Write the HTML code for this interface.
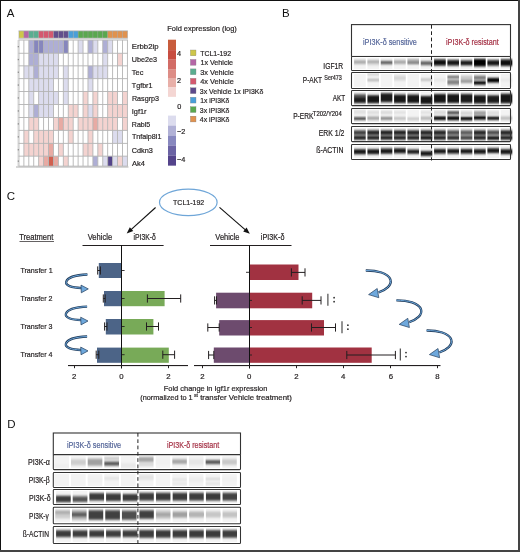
<!DOCTYPE html>
<html><head><meta charset="utf-8"><title>Figure</title>
<style>
html,body{margin:0;padding:0;background:#fff;}
body{width:520px;height:552px;position:relative;overflow:hidden;font-family:"Liberation Sans", sans-serif;}
svg text{font-family:"Liberation Sans", sans-serif;}
</style></head><body>
<svg width="520" height="552" viewBox="0 0 520 552" style="position:absolute;left:0;top:0;will-change:transform">
<defs>
<filter id="bl" x="-5%" y="-40%" width="110%" height="180%"><feGaussianBlur stdDeviation="0.3 1.0"/></filter>
<filter id="bl2" x="-5%" y="-20%" width="110%" height="140%"><feGaussianBlur stdDeviation="0.3 0.5"/></filter>
</defs>
<rect x="0" y="0" width="520" height="552" fill="#fff"/>
<rect x="17.2" y="40.1" width="1.2" height="126.10" fill="#e6e6e6"/>
<rect x="19.00" y="40.10" width="4.93" height="13.20" fill="#ffffff"/>
<rect x="23.93" y="40.10" width="4.93" height="13.20" fill="#ffffff"/>
<rect x="28.86" y="40.10" width="4.93" height="13.20" fill="#aeaed5"/>
<rect x="33.79" y="40.10" width="4.93" height="13.20" fill="#8686bd"/>
<rect x="38.72" y="40.10" width="4.93" height="13.20" fill="#8686bd"/>
<rect x="43.65" y="40.10" width="4.93" height="13.20" fill="#aeaed5"/>
<rect x="48.58" y="40.10" width="4.93" height="13.20" fill="#aeaed5"/>
<rect x="53.51" y="40.10" width="4.93" height="13.20" fill="#aeaed5"/>
<rect x="58.44" y="40.10" width="4.93" height="13.20" fill="#aeaed5"/>
<rect x="63.37" y="40.10" width="4.93" height="13.20" fill="#8686bd"/>
<rect x="68.30" y="40.10" width="4.93" height="13.20" fill="#ffffff"/>
<rect x="73.23" y="40.10" width="4.93" height="13.20" fill="#ffffff"/>
<rect x="78.16" y="40.10" width="4.93" height="13.20" fill="#dcdcee"/>
<rect x="83.09" y="40.10" width="4.93" height="13.20" fill="#ffffff"/>
<rect x="88.02" y="40.10" width="4.93" height="13.20" fill="#aeaed5"/>
<rect x="92.95" y="40.10" width="4.93" height="13.20" fill="#dcdcee"/>
<rect x="97.88" y="40.10" width="4.93" height="13.20" fill="#ffffff"/>
<rect x="102.81" y="40.10" width="4.93" height="13.20" fill="#aeaed5"/>
<rect x="107.74" y="40.10" width="4.93" height="13.20" fill="#dcdcee"/>
<rect x="112.67" y="40.10" width="4.93" height="13.20" fill="#ffffff"/>
<rect x="117.60" y="40.10" width="4.93" height="13.20" fill="#ffffff"/>
<rect x="122.53" y="40.10" width="4.93" height="13.20" fill="#ffffff"/>
<rect x="17.8" y="46.00" width="1.2" height="1.3" fill="#666"/>
<rect x="19.00" y="53.30" width="4.93" height="12.60" fill="#ffffff"/>
<rect x="23.93" y="53.30" width="4.93" height="12.60" fill="#ffffff"/>
<rect x="28.86" y="53.30" width="4.93" height="12.60" fill="#aeaed5"/>
<rect x="33.79" y="53.30" width="4.93" height="12.60" fill="#aeaed5"/>
<rect x="38.72" y="53.30" width="4.93" height="12.60" fill="#dcdcee"/>
<rect x="43.65" y="53.30" width="4.93" height="12.60" fill="#dcdcee"/>
<rect x="48.58" y="53.30" width="4.93" height="12.60" fill="#dcdcee"/>
<rect x="53.51" y="53.30" width="4.93" height="12.60" fill="#dcdcee"/>
<rect x="58.44" y="53.30" width="4.93" height="12.60" fill="#ffffff"/>
<rect x="63.37" y="53.30" width="4.93" height="12.60" fill="#ffffff"/>
<rect x="68.30" y="53.30" width="4.93" height="12.60" fill="#ffffff"/>
<rect x="73.23" y="53.30" width="4.93" height="12.60" fill="#ffffff"/>
<rect x="78.16" y="53.30" width="4.93" height="12.60" fill="#ffffff"/>
<rect x="83.09" y="53.30" width="4.93" height="12.60" fill="#ffffff"/>
<rect x="88.02" y="53.30" width="4.93" height="12.60" fill="#ffffff"/>
<rect x="92.95" y="53.30" width="4.93" height="12.60" fill="#ffffff"/>
<rect x="97.88" y="53.30" width="4.93" height="12.60" fill="#ffffff"/>
<rect x="102.81" y="53.30" width="4.93" height="12.60" fill="#dcdcee"/>
<rect x="107.74" y="53.30" width="4.93" height="12.60" fill="#ffffff"/>
<rect x="112.67" y="53.30" width="4.93" height="12.60" fill="#ffffff"/>
<rect x="117.60" y="53.30" width="4.93" height="12.60" fill="#f4d3d0"/>
<rect x="122.53" y="53.30" width="4.93" height="12.60" fill="#ffffff"/>
<rect x="17.8" y="58.90" width="1.2" height="1.3" fill="#666"/>
<rect x="19.00" y="65.90" width="4.93" height="12.80" fill="#ffffff"/>
<rect x="23.93" y="65.90" width="4.93" height="12.80" fill="#dcdcee"/>
<rect x="28.86" y="65.90" width="4.93" height="12.80" fill="#dcdcee"/>
<rect x="33.79" y="65.90" width="4.93" height="12.80" fill="#aeaed5"/>
<rect x="38.72" y="65.90" width="4.93" height="12.80" fill="#dcdcee"/>
<rect x="43.65" y="65.90" width="4.93" height="12.80" fill="#dcdcee"/>
<rect x="48.58" y="65.90" width="4.93" height="12.80" fill="#dcdcee"/>
<rect x="53.51" y="65.90" width="4.93" height="12.80" fill="#dcdcee"/>
<rect x="58.44" y="65.90" width="4.93" height="12.80" fill="#ffffff"/>
<rect x="63.37" y="65.90" width="4.93" height="12.80" fill="#dcdcee"/>
<rect x="68.30" y="65.90" width="4.93" height="12.80" fill="#ffffff"/>
<rect x="73.23" y="65.90" width="4.93" height="12.80" fill="#ffffff"/>
<rect x="78.16" y="65.90" width="4.93" height="12.80" fill="#ffffff"/>
<rect x="83.09" y="65.90" width="4.93" height="12.80" fill="#ffffff"/>
<rect x="88.02" y="65.90" width="4.93" height="12.80" fill="#aeaed5"/>
<rect x="92.95" y="65.90" width="4.93" height="12.80" fill="#dcdcee"/>
<rect x="97.88" y="65.90" width="4.93" height="12.80" fill="#dcdcee"/>
<rect x="102.81" y="65.90" width="4.93" height="12.80" fill="#dcdcee"/>
<rect x="107.74" y="65.90" width="4.93" height="12.80" fill="#ffffff"/>
<rect x="112.67" y="65.90" width="4.93" height="12.80" fill="#ffffff"/>
<rect x="117.60" y="65.90" width="4.93" height="12.80" fill="#ffffff"/>
<rect x="122.53" y="65.90" width="4.93" height="12.80" fill="#ffffff"/>
<rect x="17.8" y="71.60" width="1.2" height="1.3" fill="#666"/>
<rect x="19.00" y="78.70" width="4.93" height="12.80" fill="#ffffff"/>
<rect x="23.93" y="78.70" width="4.93" height="12.80" fill="#ffffff"/>
<rect x="28.86" y="78.70" width="4.93" height="12.80" fill="#dcdcee"/>
<rect x="33.79" y="78.70" width="4.93" height="12.80" fill="#dcdcee"/>
<rect x="38.72" y="78.70" width="4.93" height="12.80" fill="#dcdcee"/>
<rect x="43.65" y="78.70" width="4.93" height="12.80" fill="#dcdcee"/>
<rect x="48.58" y="78.70" width="4.93" height="12.80" fill="#dcdcee"/>
<rect x="53.51" y="78.70" width="4.93" height="12.80" fill="#ffffff"/>
<rect x="58.44" y="78.70" width="4.93" height="12.80" fill="#ffffff"/>
<rect x="63.37" y="78.70" width="4.93" height="12.80" fill="#dcdcee"/>
<rect x="68.30" y="78.70" width="4.93" height="12.80" fill="#ffffff"/>
<rect x="73.23" y="78.70" width="4.93" height="12.80" fill="#ffffff"/>
<rect x="78.16" y="78.70" width="4.93" height="12.80" fill="#ffffff"/>
<rect x="83.09" y="78.70" width="4.93" height="12.80" fill="#ffffff"/>
<rect x="88.02" y="78.70" width="4.93" height="12.80" fill="#dcdcee"/>
<rect x="92.95" y="78.70" width="4.93" height="12.80" fill="#ffffff"/>
<rect x="97.88" y="78.70" width="4.93" height="12.80" fill="#ffffff"/>
<rect x="102.81" y="78.70" width="4.93" height="12.80" fill="#ffffff"/>
<rect x="107.74" y="78.70" width="4.93" height="12.80" fill="#ffffff"/>
<rect x="112.67" y="78.70" width="4.93" height="12.80" fill="#ffffff"/>
<rect x="117.60" y="78.70" width="4.93" height="12.80" fill="#ffffff"/>
<rect x="122.53" y="78.70" width="4.93" height="12.80" fill="#ffffff"/>
<rect x="17.8" y="84.40" width="1.2" height="1.3" fill="#666"/>
<rect x="19.00" y="91.50" width="4.93" height="13.00" fill="#ffffff"/>
<rect x="23.93" y="91.50" width="4.93" height="13.00" fill="#ffffff"/>
<rect x="28.86" y="91.50" width="4.93" height="13.00" fill="#dcdcee"/>
<rect x="33.79" y="91.50" width="4.93" height="13.00" fill="#ffffff"/>
<rect x="38.72" y="91.50" width="4.93" height="13.00" fill="#dcdcee"/>
<rect x="43.65" y="91.50" width="4.93" height="13.00" fill="#dcdcee"/>
<rect x="48.58" y="91.50" width="4.93" height="13.00" fill="#dcdcee"/>
<rect x="53.51" y="91.50" width="4.93" height="13.00" fill="#dcdcee"/>
<rect x="58.44" y="91.50" width="4.93" height="13.00" fill="#ffffff"/>
<rect x="63.37" y="91.50" width="4.93" height="13.00" fill="#dcdcee"/>
<rect x="68.30" y="91.50" width="4.93" height="13.00" fill="#ffffff"/>
<rect x="73.23" y="91.50" width="4.93" height="13.00" fill="#ffffff"/>
<rect x="78.16" y="91.50" width="4.93" height="13.00" fill="#ffffff"/>
<rect x="83.09" y="91.50" width="4.93" height="13.00" fill="#f4d3d0"/>
<rect x="88.02" y="91.50" width="4.93" height="13.00" fill="#ffffff"/>
<rect x="92.95" y="91.50" width="4.93" height="13.00" fill="#f4d3d0"/>
<rect x="97.88" y="91.50" width="4.93" height="13.00" fill="#ffffff"/>
<rect x="102.81" y="91.50" width="4.93" height="13.00" fill="#ffffff"/>
<rect x="107.74" y="91.50" width="4.93" height="13.00" fill="#f4d3d0"/>
<rect x="112.67" y="91.50" width="4.93" height="13.00" fill="#f4d3d0"/>
<rect x="117.60" y="91.50" width="4.93" height="13.00" fill="#ffffff"/>
<rect x="122.53" y="91.50" width="4.93" height="13.00" fill="#f4d3d0"/>
<rect x="17.8" y="97.30" width="1.2" height="1.3" fill="#666"/>
<rect x="19.00" y="104.50" width="4.93" height="13.00" fill="#ffffff"/>
<rect x="23.93" y="104.50" width="4.93" height="13.00" fill="#ffffff"/>
<rect x="28.86" y="104.50" width="4.93" height="13.00" fill="#dcdcee"/>
<rect x="33.79" y="104.50" width="4.93" height="13.00" fill="#aeaed5"/>
<rect x="38.72" y="104.50" width="4.93" height="13.00" fill="#dcdcee"/>
<rect x="43.65" y="104.50" width="4.93" height="13.00" fill="#dcdcee"/>
<rect x="48.58" y="104.50" width="4.93" height="13.00" fill="#dcdcee"/>
<rect x="53.51" y="104.50" width="4.93" height="13.00" fill="#ffffff"/>
<rect x="58.44" y="104.50" width="4.93" height="13.00" fill="#ffffff"/>
<rect x="63.37" y="104.50" width="4.93" height="13.00" fill="#ffffff"/>
<rect x="68.30" y="104.50" width="4.93" height="13.00" fill="#f4d3d0"/>
<rect x="73.23" y="104.50" width="4.93" height="13.00" fill="#f4d3d0"/>
<rect x="78.16" y="104.50" width="4.93" height="13.00" fill="#ffffff"/>
<rect x="83.09" y="104.50" width="4.93" height="13.00" fill="#f4d3d0"/>
<rect x="88.02" y="104.50" width="4.93" height="13.00" fill="#dcdcee"/>
<rect x="92.95" y="104.50" width="4.93" height="13.00" fill="#f4d3d0"/>
<rect x="97.88" y="104.50" width="4.93" height="13.00" fill="#ffffff"/>
<rect x="102.81" y="104.50" width="4.93" height="13.00" fill="#ffffff"/>
<rect x="107.74" y="104.50" width="4.93" height="13.00" fill="#f4d3d0"/>
<rect x="112.67" y="104.50" width="4.93" height="13.00" fill="#f4d3d0"/>
<rect x="117.60" y="104.50" width="4.93" height="13.00" fill="#f4d3d0"/>
<rect x="122.53" y="104.50" width="4.93" height="13.00" fill="#f4d3d0"/>
<rect x="17.8" y="110.30" width="1.2" height="1.3" fill="#666"/>
<rect x="19.00" y="117.50" width="4.93" height="12.90" fill="#ffffff"/>
<rect x="23.93" y="117.50" width="4.93" height="12.90" fill="#ffffff"/>
<rect x="28.86" y="117.50" width="4.93" height="12.90" fill="#f4d3d0"/>
<rect x="33.79" y="117.50" width="4.93" height="12.90" fill="#f4d3d0"/>
<rect x="38.72" y="117.50" width="4.93" height="12.90" fill="#ffffff"/>
<rect x="43.65" y="117.50" width="4.93" height="12.90" fill="#ffffff"/>
<rect x="48.58" y="117.50" width="4.93" height="12.90" fill="#ffffff"/>
<rect x="53.51" y="117.50" width="4.93" height="12.90" fill="#f4d3d0"/>
<rect x="58.44" y="117.50" width="4.93" height="12.90" fill="#e8aaa3"/>
<rect x="63.37" y="117.50" width="4.93" height="12.90" fill="#f4d3d0"/>
<rect x="68.30" y="117.50" width="4.93" height="12.90" fill="#f4d3d0"/>
<rect x="73.23" y="117.50" width="4.93" height="12.90" fill="#ffffff"/>
<rect x="78.16" y="117.50" width="4.93" height="12.90" fill="#f4d3d0"/>
<rect x="83.09" y="117.50" width="4.93" height="12.90" fill="#f4d3d0"/>
<rect x="88.02" y="117.50" width="4.93" height="12.90" fill="#f4d3d0"/>
<rect x="92.95" y="117.50" width="4.93" height="12.90" fill="#e8aaa3"/>
<rect x="97.88" y="117.50" width="4.93" height="12.90" fill="#f4d3d0"/>
<rect x="102.81" y="117.50" width="4.93" height="12.90" fill="#f4d3d0"/>
<rect x="107.74" y="117.50" width="4.93" height="12.90" fill="#f4d3d0"/>
<rect x="112.67" y="117.50" width="4.93" height="12.90" fill="#f4d3d0"/>
<rect x="117.60" y="117.50" width="4.93" height="12.90" fill="#ffffff"/>
<rect x="122.53" y="117.50" width="4.93" height="12.90" fill="#f4d3d0"/>
<rect x="17.8" y="123.25" width="1.2" height="1.3" fill="#666"/>
<rect x="19.00" y="130.40" width="4.93" height="13.00" fill="#ffffff"/>
<rect x="23.93" y="130.40" width="4.93" height="13.00" fill="#f4d3d0"/>
<rect x="28.86" y="130.40" width="4.93" height="13.00" fill="#ffffff"/>
<rect x="33.79" y="130.40" width="4.93" height="13.00" fill="#f4d3d0"/>
<rect x="38.72" y="130.40" width="4.93" height="13.00" fill="#f4d3d0"/>
<rect x="43.65" y="130.40" width="4.93" height="13.00" fill="#f4d3d0"/>
<rect x="48.58" y="130.40" width="4.93" height="13.00" fill="#f4d3d0"/>
<rect x="53.51" y="130.40" width="4.93" height="13.00" fill="#ffffff"/>
<rect x="58.44" y="130.40" width="4.93" height="13.00" fill="#ffffff"/>
<rect x="63.37" y="130.40" width="4.93" height="13.00" fill="#ffffff"/>
<rect x="68.30" y="130.40" width="4.93" height="13.00" fill="#f4d3d0"/>
<rect x="73.23" y="130.40" width="4.93" height="13.00" fill="#ffffff"/>
<rect x="78.16" y="130.40" width="4.93" height="13.00" fill="#ffffff"/>
<rect x="83.09" y="130.40" width="4.93" height="13.00" fill="#ffffff"/>
<rect x="88.02" y="130.40" width="4.93" height="13.00" fill="#f4d3d0"/>
<rect x="92.95" y="130.40" width="4.93" height="13.00" fill="#ffffff"/>
<rect x="97.88" y="130.40" width="4.93" height="13.00" fill="#ffffff"/>
<rect x="102.81" y="130.40" width="4.93" height="13.00" fill="#ffffff"/>
<rect x="107.74" y="130.40" width="4.93" height="13.00" fill="#ffffff"/>
<rect x="112.67" y="130.40" width="4.93" height="13.00" fill="#dcdcee"/>
<rect x="117.60" y="130.40" width="4.93" height="13.00" fill="#dcdcee"/>
<rect x="122.53" y="130.40" width="4.93" height="13.00" fill="#ffffff"/>
<rect x="17.8" y="136.20" width="1.2" height="1.3" fill="#666"/>
<rect x="19.00" y="143.40" width="4.93" height="12.80" fill="#ffffff"/>
<rect x="23.93" y="143.40" width="4.93" height="12.80" fill="#f4d3d0"/>
<rect x="28.86" y="143.40" width="4.93" height="12.80" fill="#f4d3d0"/>
<rect x="33.79" y="143.40" width="4.93" height="12.80" fill="#f4d3d0"/>
<rect x="38.72" y="143.40" width="4.93" height="12.80" fill="#f4d3d0"/>
<rect x="43.65" y="143.40" width="4.93" height="12.80" fill="#f4d3d0"/>
<rect x="48.58" y="143.40" width="4.93" height="12.80" fill="#e8aaa3"/>
<rect x="53.51" y="143.40" width="4.93" height="12.80" fill="#ffffff"/>
<rect x="58.44" y="143.40" width="4.93" height="12.80" fill="#f4d3d0"/>
<rect x="63.37" y="143.40" width="4.93" height="12.80" fill="#ffffff"/>
<rect x="68.30" y="143.40" width="4.93" height="12.80" fill="#ffffff"/>
<rect x="73.23" y="143.40" width="4.93" height="12.80" fill="#ffffff"/>
<rect x="78.16" y="143.40" width="4.93" height="12.80" fill="#ffffff"/>
<rect x="83.09" y="143.40" width="4.93" height="12.80" fill="#f4d3d0"/>
<rect x="88.02" y="143.40" width="4.93" height="12.80" fill="#f4d3d0"/>
<rect x="92.95" y="143.40" width="4.93" height="12.80" fill="#ffffff"/>
<rect x="97.88" y="143.40" width="4.93" height="12.80" fill="#f4d3d0"/>
<rect x="102.81" y="143.40" width="4.93" height="12.80" fill="#ffffff"/>
<rect x="107.74" y="143.40" width="4.93" height="12.80" fill="#ffffff"/>
<rect x="112.67" y="143.40" width="4.93" height="12.80" fill="#ffffff"/>
<rect x="117.60" y="143.40" width="4.93" height="12.80" fill="#ffffff"/>
<rect x="122.53" y="143.40" width="4.93" height="12.80" fill="#ffffff"/>
<rect x="17.8" y="149.10" width="1.2" height="1.3" fill="#666"/>
<rect x="19.00" y="156.20" width="4.93" height="10.00" fill="#ffffff"/>
<rect x="23.93" y="156.20" width="4.93" height="10.00" fill="#ffffff"/>
<rect x="28.86" y="156.20" width="4.93" height="10.00" fill="#ffffff"/>
<rect x="33.79" y="156.20" width="4.93" height="10.00" fill="#ffffff"/>
<rect x="38.72" y="156.20" width="4.93" height="10.00" fill="#f4d3d0"/>
<rect x="43.65" y="156.20" width="4.93" height="10.00" fill="#e8aaa3"/>
<rect x="48.58" y="156.20" width="4.93" height="10.00" fill="#d0604f"/>
<rect x="53.51" y="156.20" width="4.93" height="10.00" fill="#e8aaa3"/>
<rect x="58.44" y="156.20" width="4.93" height="10.00" fill="#ffffff"/>
<rect x="63.37" y="156.20" width="4.93" height="10.00" fill="#f4d3d0"/>
<rect x="68.30" y="156.20" width="4.93" height="10.00" fill="#ffffff"/>
<rect x="73.23" y="156.20" width="4.93" height="10.00" fill="#ffffff"/>
<rect x="78.16" y="156.20" width="4.93" height="10.00" fill="#ffffff"/>
<rect x="83.09" y="156.20" width="4.93" height="10.00" fill="#ffffff"/>
<rect x="88.02" y="156.20" width="4.93" height="10.00" fill="#ffffff"/>
<rect x="92.95" y="156.20" width="4.93" height="10.00" fill="#aeaed5"/>
<rect x="97.88" y="156.20" width="4.93" height="10.00" fill="#ffffff"/>
<rect x="102.81" y="156.20" width="4.93" height="10.00" fill="#dcdcee"/>
<rect x="107.74" y="156.20" width="4.93" height="10.00" fill="#54448a"/>
<rect x="112.67" y="156.20" width="4.93" height="10.00" fill="#dcdcee"/>
<rect x="117.60" y="156.20" width="4.93" height="10.00" fill="#f4d3d0"/>
<rect x="122.53" y="156.20" width="4.93" height="10.00" fill="#dcdcee"/>
<rect x="17.8" y="160.50" width="1.2" height="1.3" fill="#666"/>
<rect x="18.50" y="40.1" width="0.9" height="126.10" fill="#b4b4b4"/>
<rect x="23.43" y="40.1" width="0.9" height="126.10" fill="#b4b4b4"/>
<rect x="28.36" y="40.1" width="0.9" height="126.10" fill="#b4b4b4"/>
<rect x="33.29" y="40.1" width="0.9" height="126.10" fill="#b4b4b4"/>
<rect x="38.22" y="40.1" width="0.9" height="126.10" fill="#b4b4b4"/>
<rect x="43.15" y="40.1" width="0.9" height="126.10" fill="#b4b4b4"/>
<rect x="48.08" y="40.1" width="0.9" height="126.10" fill="#b4b4b4"/>
<rect x="53.01" y="40.1" width="0.9" height="126.10" fill="#b4b4b4"/>
<rect x="57.94" y="40.1" width="0.9" height="126.10" fill="#b4b4b4"/>
<rect x="62.87" y="40.1" width="0.9" height="126.10" fill="#b4b4b4"/>
<rect x="67.80" y="40.1" width="0.9" height="126.10" fill="#b4b4b4"/>
<rect x="72.73" y="40.1" width="0.9" height="126.10" fill="#b4b4b4"/>
<rect x="77.66" y="40.1" width="0.9" height="126.10" fill="#b4b4b4"/>
<rect x="82.59" y="40.1" width="0.9" height="126.10" fill="#b4b4b4"/>
<rect x="87.52" y="40.1" width="0.9" height="126.10" fill="#b4b4b4"/>
<rect x="92.45" y="40.1" width="0.9" height="126.10" fill="#b4b4b4"/>
<rect x="97.38" y="40.1" width="0.9" height="126.10" fill="#b4b4b4"/>
<rect x="102.31" y="40.1" width="0.9" height="126.10" fill="#b4b4b4"/>
<rect x="107.24" y="40.1" width="0.9" height="126.10" fill="#b4b4b4"/>
<rect x="112.17" y="40.1" width="0.9" height="126.10" fill="#b4b4b4"/>
<rect x="117.10" y="40.1" width="0.9" height="126.10" fill="#b4b4b4"/>
<rect x="122.03" y="40.1" width="0.9" height="126.10" fill="#b4b4b4"/>
<rect x="126.96" y="40.1" width="0.9" height="126.10" fill="#b4b4b4"/>
<rect x="18.5" y="39.60" width="109.36" height="0.9" fill="#b4b4b4"/>
<rect x="18.5" y="52.80" width="109.36" height="0.9" fill="#b4b4b4"/>
<rect x="18.5" y="65.40" width="109.36" height="0.9" fill="#b4b4b4"/>
<rect x="18.5" y="78.20" width="109.36" height="0.9" fill="#b4b4b4"/>
<rect x="18.5" y="91.00" width="109.36" height="0.9" fill="#b4b4b4"/>
<rect x="18.5" y="104.00" width="109.36" height="0.9" fill="#b4b4b4"/>
<rect x="18.5" y="117.00" width="109.36" height="0.9" fill="#b4b4b4"/>
<rect x="18.5" y="129.90" width="109.36" height="0.9" fill="#b4b4b4"/>
<rect x="18.5" y="142.90" width="109.36" height="0.9" fill="#b4b4b4"/>
<rect x="18.5" y="155.70" width="109.36" height="0.9" fill="#b4b4b4"/>
<rect x="18.5" y="165.70" width="109.36" height="0.9" fill="#b4b4b4"/>
<rect x="16" y="166.40" width="112.46" height="1.2" fill="#bbb"/>
<rect x="19.00" y="31" width="4.93" height="7" fill="#cdc64a"/>
<rect x="23.93" y="31" width="4.93" height="7" fill="#b466a6"/>
<rect x="28.86" y="31" width="4.93" height="7" fill="#5aae90"/>
<rect x="33.79" y="31" width="4.93" height="7" fill="#5aae90"/>
<rect x="38.72" y="31" width="4.93" height="7" fill="#d4596f"/>
<rect x="43.65" y="31" width="4.93" height="7" fill="#d4596f"/>
<rect x="48.58" y="31" width="4.93" height="7" fill="#d4596f"/>
<rect x="53.51" y="31" width="4.93" height="7" fill="#624f8c"/>
<rect x="58.44" y="31" width="4.93" height="7" fill="#624f8c"/>
<rect x="63.37" y="31" width="4.93" height="7" fill="#624f8c"/>
<rect x="68.30" y="31" width="4.93" height="7" fill="#4a9fd9"/>
<rect x="73.23" y="31" width="4.93" height="7" fill="#4a9fd9"/>
<rect x="78.16" y="31" width="4.93" height="7" fill="#5aa84f"/>
<rect x="83.09" y="31" width="4.93" height="7" fill="#5aa84f"/>
<rect x="88.02" y="31" width="4.93" height="7" fill="#5aa84f"/>
<rect x="92.95" y="31" width="4.93" height="7" fill="#5aa84f"/>
<rect x="97.88" y="31" width="4.93" height="7" fill="#5aa84f"/>
<rect x="102.81" y="31" width="4.93" height="7" fill="#5aa84f"/>
<rect x="107.74" y="31" width="4.93" height="7" fill="#e0924f"/>
<rect x="112.67" y="31" width="4.93" height="7" fill="#e0924f"/>
<rect x="117.60" y="31" width="4.93" height="7" fill="#e0924f"/>
<rect x="122.53" y="31" width="4.93" height="7" fill="#e0924f"/>
<rect x="18.60" y="31" width="0.7" height="7" fill="#999" opacity="0.7"/>
<rect x="23.53" y="31" width="0.7" height="7" fill="#999" opacity="0.7"/>
<rect x="28.46" y="31" width="0.7" height="7" fill="#999" opacity="0.7"/>
<rect x="33.39" y="31" width="0.7" height="7" fill="#999" opacity="0.7"/>
<rect x="38.32" y="31" width="0.7" height="7" fill="#999" opacity="0.7"/>
<rect x="43.25" y="31" width="0.7" height="7" fill="#999" opacity="0.7"/>
<rect x="48.18" y="31" width="0.7" height="7" fill="#999" opacity="0.7"/>
<rect x="53.11" y="31" width="0.7" height="7" fill="#999" opacity="0.7"/>
<rect x="58.04" y="31" width="0.7" height="7" fill="#999" opacity="0.7"/>
<rect x="62.97" y="31" width="0.7" height="7" fill="#999" opacity="0.7"/>
<rect x="67.90" y="31" width="0.7" height="7" fill="#999" opacity="0.7"/>
<rect x="72.83" y="31" width="0.7" height="7" fill="#999" opacity="0.7"/>
<rect x="77.76" y="31" width="0.7" height="7" fill="#999" opacity="0.7"/>
<rect x="82.69" y="31" width="0.7" height="7" fill="#999" opacity="0.7"/>
<rect x="87.62" y="31" width="0.7" height="7" fill="#999" opacity="0.7"/>
<rect x="92.55" y="31" width="0.7" height="7" fill="#999" opacity="0.7"/>
<rect x="97.48" y="31" width="0.7" height="7" fill="#999" opacity="0.7"/>
<rect x="102.41" y="31" width="0.7" height="7" fill="#999" opacity="0.7"/>
<rect x="107.34" y="31" width="0.7" height="7" fill="#999" opacity="0.7"/>
<rect x="112.27" y="31" width="0.7" height="7" fill="#999" opacity="0.7"/>
<rect x="117.20" y="31" width="0.7" height="7" fill="#999" opacity="0.7"/>
<rect x="122.13" y="31" width="0.7" height="7" fill="#999" opacity="0.7"/>
<rect x="127.06" y="31" width="0.7" height="7" fill="#999" opacity="0.7"/>
<rect x="18.5" y="30.5" width="109.36" height="0.8" fill="#aaa"/>
<rect x="18.5" y="37.8" width="109.36" height="1.6" fill="#ccc"/>
<text x="131.8" y="49.4" font-size="8.0" fill="#231f20" stroke="#231f20" stroke-width="0.2" textLength="26.738" lengthAdjust="spacingAndGlyphs">Erbb2ip</text>
<text x="131.8" y="62.1" font-size="8.0" fill="#231f20" stroke="#231f20" stroke-width="0.2" textLength="25.309" lengthAdjust="spacingAndGlyphs">Ube2e3</text>
<text x="131.8" y="75.0" font-size="8.0" fill="#231f20" stroke="#231f20" stroke-width="0.2" textLength="11.585" lengthAdjust="spacingAndGlyphs">Tec</text>
<text x="131.8" y="88.2" font-size="8.0" fill="#231f20" stroke="#231f20" stroke-width="0.2" textLength="20.687" lengthAdjust="spacingAndGlyphs">Tgfbr1</text>
<text x="131.9" y="100.7" font-size="8.0" fill="#231f20" stroke="#231f20" stroke-width="0.2" textLength="27.115" lengthAdjust="spacingAndGlyphs">Rasgrp3</text>
<text x="131.8" y="113.7" font-size="8.0" fill="#231f20" stroke="#231f20" stroke-width="0.2" textLength="14.77" lengthAdjust="spacingAndGlyphs">Igf1r</text>
<text x="131.8" y="126.9" font-size="8.0" fill="#231f20" stroke="#231f20" stroke-width="0.2" textLength="18.48" lengthAdjust="spacingAndGlyphs">Rabl5</text>
<text x="131.9" y="138.6" font-size="8.0" fill="#231f20" stroke="#231f20" stroke-width="0.2" textLength="29.493" lengthAdjust="spacingAndGlyphs">Tnfaip8l1</text>
<text x="131.7" y="153.2" font-size="8.0" fill="#231f20" stroke="#231f20" stroke-width="0.2" textLength="21.132" lengthAdjust="spacingAndGlyphs">Cdkn3</text>
<text x="131.9" y="165.5" font-size="8.0" fill="#231f20" stroke="#231f20" stroke-width="0.2" textLength="12.965" lengthAdjust="spacingAndGlyphs">Ak4</text>
<rect x="168" y="39.7" width="8" height="10.45" fill="#c85c3c"/>
<rect x="168" y="50.1" width="8" height="9.05" fill="#c84d41"/>
<rect x="168" y="59.1" width="8" height="10.05" fill="#d26c66"/>
<rect x="168" y="69.1" width="8" height="8.95" fill="#dd8d86"/>
<rect x="168" y="78.0" width="8" height="9.45" fill="#e8afa8"/>
<rect x="168" y="87.4" width="8" height="9.45" fill="#f4d6d3"/>
<rect x="168" y="115.60" width="8" height="10.05" fill="#dcdcee"/>
<rect x="168" y="125.60" width="8" height="10.05" fill="#b1b1d6"/>
<rect x="168" y="135.60" width="8" height="10.05" fill="#8888bf"/>
<rect x="168" y="145.60" width="8" height="10.05" fill="#6b63a4"/>
<rect x="168" y="155.60" width="8" height="10.05" fill="#54448b"/>
<text x="177.10" y="55.6" font-size="7.3" fill="#231f20" stroke="#231f20" stroke-width="0.2">4</text>
<text x="177.10" y="82.5" font-size="7.3" fill="#231f20" stroke="#231f20" stroke-width="0.2">2</text>
<text x="177.20" y="108.9" font-size="7.3" fill="#231f20" stroke="#231f20" stroke-width="0.2">0</text>
<text x="177.00" y="134.4" font-size="7.3" fill="#231f20" stroke="#231f20" stroke-width="0.2">−2</text>
<text x="177.00" y="162.3" font-size="7.3" fill="#231f20" stroke="#231f20" stroke-width="0.2">−4</text>
<text x="167.3" y="31.0" font-size="8.0" fill="#231f20" stroke="#231f20" stroke-width="0.2" textLength="69.536" lengthAdjust="spacingAndGlyphs">Fold expression (log)</text>
<rect x="190.4" y="50.00" width="5.6" height="5.8" fill="#cdc64a" stroke="#777" stroke-width="0.3"/>
<text x="200.2" y="55.8" font-size="8.0" fill="#231f20" stroke="#231f20" stroke-width="0.2" textLength="30.85" lengthAdjust="spacingAndGlyphs">TCL1-192</text>
<rect x="190.4" y="59.45" width="5.6" height="5.8" fill="#b466a6" stroke="#777" stroke-width="0.3"/>
<text x="200.4" y="65.25" font-size="8.0" fill="#231f20" stroke="#231f20" stroke-width="0.2" textLength="32.7" lengthAdjust="spacingAndGlyphs">1x Vehicle</text>
<rect x="190.4" y="68.90" width="5.6" height="5.8" fill="#5aae90" stroke="#777" stroke-width="0.3"/>
<text x="200.2" y="74.7" font-size="8.0" fill="#231f20" stroke="#231f20" stroke-width="0.2" textLength="33.538" lengthAdjust="spacingAndGlyphs">3x Vehicle</text>
<rect x="190.4" y="78.35" width="5.6" height="5.8" fill="#d4596f" stroke="#777" stroke-width="0.3"/>
<text x="200.2" y="84.15" font-size="8.0" fill="#231f20" stroke="#231f20" stroke-width="0.2" textLength="33.538" lengthAdjust="spacingAndGlyphs">4x Vehicle</text>
<rect x="190.4" y="87.80" width="5.6" height="5.8" fill="#5d4a8c" stroke="#777" stroke-width="0.3"/>
<text x="199.8" y="93.6" font-size="8.0" fill="#231f20" stroke="#231f20" stroke-width="0.2" textLength="63.48" lengthAdjust="spacingAndGlyphs">3x Vehicle 1x iPI3Kδ</text>
<rect x="190.4" y="97.25" width="5.6" height="5.8" fill="#4a9fd9" stroke="#777" stroke-width="0.3"/>
<text x="200.2" y="103.05" font-size="8.0" fill="#231f20" stroke="#231f20" stroke-width="0.2" textLength="29.068" lengthAdjust="spacingAndGlyphs">1x iPI3Kδ</text>
<rect x="190.4" y="106.70" width="5.6" height="5.8" fill="#5aa84f" stroke="#777" stroke-width="0.3"/>
<text x="199.8" y="112.5" font-size="8.0" fill="#231f20" stroke="#231f20" stroke-width="0.2" textLength="29.665" lengthAdjust="spacingAndGlyphs">3x iPI3Kδ</text>
<rect x="190.4" y="116.15" width="5.6" height="5.8" fill="#e0924f" stroke="#777" stroke-width="0.3"/>
<text x="199.8" y="121.95" font-size="8.0" fill="#231f20" stroke="#231f20" stroke-width="0.2" textLength="29.665" lengthAdjust="spacingAndGlyphs">4x iPI3Kδ</text>
<text x="6.80" y="16.9" font-size="11.5" fill="#111" stroke="#111" stroke-width="0.0">A</text>
<text x="282.10" y="16.8" font-size="11.5" fill="#111" stroke="#111" stroke-width="0.0">B</text>
<rect x="351.5" y="24.6" width="159.0" height="31.9" fill="#fff" stroke="#333" stroke-width="1.1"/>
<text x="363.0" y="45.25" font-size="8.5" fill="#56679a" stroke="#56679a" stroke-width="0.2" textLength="53.86" lengthAdjust="spacingAndGlyphs">iPI3K-δ sensitive</text>
<text x="446.0" y="45.25" font-size="8.5" fill="#a53246" stroke="#a53246" stroke-width="0.2" textLength="52.844" lengthAdjust="spacingAndGlyphs">iPI3K-δ resistant</text>
<rect x="351.5" y="56.5" width="159.0" height="14.0" fill="#fff"/>
<rect x="354.10" y="58.10" width="11.60" height="10.80" fill="#f3f3f3"/>
<rect x="367.43" y="58.10" width="11.60" height="10.80" fill="#f3f3f3"/>
<rect x="380.76" y="58.10" width="11.60" height="10.80" fill="#f3f3f3"/>
<rect x="394.09" y="58.10" width="11.60" height="10.80" fill="#f3f3f3"/>
<rect x="407.42" y="58.10" width="11.60" height="10.80" fill="#f3f3f3"/>
<rect x="420.75" y="58.10" width="11.60" height="10.80" fill="#f3f3f3"/>
<rect x="434.08" y="58.10" width="11.60" height="10.80" fill="#f3f3f3"/>
<rect x="447.41" y="58.10" width="11.60" height="10.80" fill="#f3f3f3"/>
<rect x="460.74" y="58.10" width="11.60" height="10.80" fill="#f3f3f3"/>
<rect x="474.07" y="58.10" width="11.60" height="10.80" fill="#f3f3f3"/>
<rect x="487.40" y="58.10" width="11.60" height="10.80" fill="#f3f3f3"/>
<rect x="500.73" y="58.10" width="11.60" height="10.80" fill="#f3f3f3"/>
<g filter="url(#bl)">
<rect x="354.10" y="60.20" width="11.60" height="3.80" fill="rgb(172,172,172)"/>
<rect x="367.43" y="60.70" width="11.60" height="1.80" fill="rgb(130,130,130)"/>
<rect x="367.43" y="62.40" width="11.60" height="2.20" fill="rgb(200,200,200)"/>
<rect x="380.76" y="61.00" width="11.60" height="3.20" fill="rgb(90,90,90)"/>
<rect x="394.09" y="60.20" width="11.60" height="3.80" fill="rgb(168,168,168)"/>
<rect x="407.42" y="59.55" width="11.60" height="1.70" fill="rgb(140,140,140)"/>
<rect x="407.42" y="61.80" width="11.60" height="2.20" fill="rgb(105,105,105)"/>
<rect x="420.75" y="61.30" width="11.60" height="3.80" fill="rgb(95,95,95)"/>
<rect x="434.08" y="59.50" width="11.60" height="6.00" fill="rgb(8,8,8)"/>
<rect x="447.41" y="60.05" width="11.60" height="5.50" fill="rgb(18,18,18)"/>
<rect x="460.74" y="60.50" width="11.60" height="4.80" fill="rgb(18,18,18)"/>
<rect x="474.07" y="58.95" width="11.60" height="7.50" fill="rgb(4,4,4)"/>
<rect x="487.40" y="60.15" width="11.60" height="5.50" fill="rgb(18,18,18)"/>
<rect x="500.73" y="59.45" width="11.60" height="6.50" fill="rgb(8,8,8)"/>
</g>
<rect x="351.5" y="56.5" width="159.0" height="14.0" rx="0.8" fill="none" stroke="#333" stroke-width="1.05"/>
<rect x="351.5" y="72.5" width="159.0" height="16.0" fill="#fff"/>
<rect x="354.10" y="74.10" width="11.60" height="12.80" fill="#f3f3f3"/>
<rect x="367.43" y="74.10" width="11.60" height="12.80" fill="#f3f3f3"/>
<rect x="380.76" y="74.10" width="11.60" height="12.80" fill="#f3f3f3"/>
<rect x="394.09" y="74.10" width="11.60" height="12.80" fill="#f3f3f3"/>
<rect x="407.42" y="74.10" width="11.60" height="12.80" fill="#f3f3f3"/>
<rect x="420.75" y="74.10" width="11.60" height="12.80" fill="#f3f3f3"/>
<rect x="434.08" y="74.10" width="11.60" height="12.80" fill="#f3f3f3"/>
<rect x="447.41" y="74.10" width="11.60" height="12.80" fill="#f3f3f3"/>
<rect x="460.74" y="74.10" width="11.60" height="12.80" fill="#f3f3f3"/>
<rect x="474.07" y="74.10" width="11.60" height="12.80" fill="#f3f3f3"/>
<rect x="487.40" y="74.10" width="11.60" height="12.80" fill="#f3f3f3"/>
<rect x="500.73" y="74.10" width="11.60" height="12.80" fill="#f3f3f3"/>
<g filter="url(#bl)">
<rect x="367.43" y="73.40" width="11.60" height="1.80" fill="rgb(200,200,200)"/>
<rect x="367.43" y="78.90" width="11.60" height="2.20" fill="rgb(175,175,175)"/>
<rect x="394.09" y="75.60" width="11.60" height="5.00" fill="rgb(215,215,215)"/>
<rect x="420.75" y="78.60" width="11.60" height="2.20" fill="rgb(185,185,185)"/>
<rect x="434.08" y="78.00" width="11.60" height="4.00" fill="rgb(232,232,232)"/>
<rect x="447.41" y="76.00" width="11.60" height="2.00" fill="rgb(80,80,80)"/>
<rect x="447.41" y="79.70" width="11.60" height="5.00" fill="rgb(130,130,130)"/>
<rect x="460.74" y="75.80" width="11.60" height="3.00" fill="rgb(195,195,195)"/>
<rect x="460.74" y="79.45" width="11.60" height="3.50" fill="rgb(150,150,150)"/>
<rect x="474.07" y="75.70" width="11.60" height="4.00" fill="rgb(120,120,120)"/>
<rect x="474.07" y="81.00" width="11.60" height="3.60" fill="rgb(5,5,5)"/>
<rect x="487.40" y="77.95" width="11.60" height="4.50" fill="rgb(5,5,5)"/>
<rect x="500.73" y="78.00" width="11.60" height="4.00" fill="rgb(235,235,235)"/>
</g>
<rect x="351.5" y="72.5" width="159.0" height="16.0" rx="0.8" fill="none" stroke="#333" stroke-width="1.05"/>
<rect x="351.5" y="90.5" width="159.0" height="15.099999999999994" fill="#fff"/>
<rect x="354.10" y="92.10" width="11.60" height="11.90" fill="#f3f3f3"/>
<rect x="367.43" y="92.10" width="11.60" height="11.90" fill="#f3f3f3"/>
<rect x="380.76" y="92.10" width="11.60" height="11.90" fill="#f3f3f3"/>
<rect x="394.09" y="92.10" width="11.60" height="11.90" fill="#f3f3f3"/>
<rect x="407.42" y="92.10" width="11.60" height="11.90" fill="#f3f3f3"/>
<rect x="420.75" y="92.10" width="11.60" height="11.90" fill="#f3f3f3"/>
<rect x="434.08" y="92.10" width="11.60" height="11.90" fill="#f3f3f3"/>
<rect x="447.41" y="92.10" width="11.60" height="11.90" fill="#f3f3f3"/>
<rect x="460.74" y="92.10" width="11.60" height="11.90" fill="#f3f3f3"/>
<rect x="474.07" y="92.10" width="11.60" height="11.90" fill="#f3f3f3"/>
<rect x="487.40" y="92.10" width="11.60" height="11.90" fill="#f3f3f3"/>
<rect x="500.73" y="92.10" width="11.60" height="11.90" fill="#f3f3f3"/>
<g filter="url(#bl)">
<rect x="354.10" y="94.00" width="11.60" height="3.20" fill="rgb(95,95,95)"/>
<rect x="354.10" y="96.90" width="11.60" height="6.20" fill="rgb(30,30,30)"/>
<rect x="367.43" y="95.20" width="11.60" height="8.00" fill="rgb(22,22,22)"/>
<rect x="380.76" y="93.20" width="11.60" height="9.00" fill="rgb(30,30,30)"/>
<rect x="394.09" y="94.55" width="11.60" height="8.50" fill="rgb(22,22,22)"/>
<rect x="407.42" y="94.55" width="11.60" height="8.50" fill="rgb(22,22,22)"/>
<rect x="420.75" y="96.00" width="11.60" height="8.00" fill="rgb(20,20,20)"/>
<rect x="434.08" y="94.00" width="11.60" height="9.00" fill="rgb(22,22,22)"/>
<rect x="447.41" y="94.00" width="11.60" height="9.00" fill="rgb(22,22,22)"/>
<rect x="460.74" y="94.00" width="11.60" height="9.00" fill="rgb(28,28,28)"/>
<rect x="474.07" y="95.05" width="11.60" height="8.50" fill="rgb(22,22,22)"/>
<rect x="487.40" y="95.30" width="11.60" height="8.00" fill="rgb(30,30,30)"/>
<rect x="500.73" y="93.75" width="11.60" height="9.50" fill="rgb(20,20,20)"/>
</g>
<rect x="351.5" y="90.5" width="159.0" height="15.099999999999994" rx="0.8" fill="none" stroke="#333" stroke-width="1.05"/>
<rect x="351.5" y="108.5" width="159.0" height="15.099999999999994" fill="#fff"/>
<rect x="354.10" y="110.10" width="11.60" height="11.90" fill="#f3f3f3"/>
<rect x="367.43" y="110.10" width="11.60" height="11.90" fill="#f3f3f3"/>
<rect x="380.76" y="110.10" width="11.60" height="11.90" fill="#f3f3f3"/>
<rect x="394.09" y="110.10" width="11.60" height="11.90" fill="#f3f3f3"/>
<rect x="407.42" y="110.10" width="11.60" height="11.90" fill="#f3f3f3"/>
<rect x="420.75" y="110.10" width="11.60" height="11.90" fill="#f3f3f3"/>
<rect x="434.08" y="110.10" width="11.60" height="11.90" fill="#f3f3f3"/>
<rect x="447.41" y="110.10" width="11.60" height="11.90" fill="#f3f3f3"/>
<rect x="460.74" y="110.10" width="11.60" height="11.90" fill="#f3f3f3"/>
<rect x="474.07" y="110.10" width="11.60" height="11.90" fill="#f3f3f3"/>
<rect x="487.40" y="110.10" width="11.60" height="11.90" fill="#f3f3f3"/>
<rect x="500.73" y="110.10" width="11.60" height="11.90" fill="#f3f3f3"/>
<g filter="url(#bl)">
<rect x="354.10" y="110.00" width="11.60" height="4.00" fill="rgb(225,225,225)"/>
<rect x="354.10" y="117.50" width="11.60" height="2.20" fill="rgb(25,25,25)"/>
<rect x="367.43" y="111.50" width="11.60" height="2.00" fill="rgb(210,210,210)"/>
<rect x="367.43" y="116.60" width="11.60" height="3.20" fill="rgb(160,160,160)"/>
<rect x="380.76" y="111.50" width="11.60" height="2.00" fill="rgb(205,205,205)"/>
<rect x="380.76" y="117.10" width="11.60" height="2.60" fill="rgb(120,120,120)"/>
<rect x="394.09" y="111.50" width="11.60" height="2.00" fill="rgb(218,218,218)"/>
<rect x="394.09" y="117.00" width="11.60" height="2.80" fill="rgb(190,190,190)"/>
<rect x="407.42" y="117.70" width="11.60" height="2.20" fill="rgb(190,190,190)"/>
<rect x="420.75" y="111.50" width="11.60" height="2.00" fill="rgb(218,218,218)"/>
<rect x="420.75" y="116.60" width="11.60" height="3.20" fill="rgb(180,180,180)"/>
<rect x="434.08" y="111.00" width="11.60" height="3.00" fill="rgb(215,215,215)"/>
<rect x="434.08" y="116.40" width="11.60" height="3.60" fill="rgb(5,5,5)"/>
<rect x="447.41" y="111.50" width="11.60" height="2.60" fill="rgb(45,45,45)"/>
<rect x="447.41" y="116.30" width="11.60" height="3.80" fill="rgb(0,0,0)"/>
<rect x="460.74" y="111.90" width="11.60" height="2.60" fill="rgb(205,205,205)"/>
<rect x="460.74" y="116.90" width="11.60" height="3.40" fill="rgb(5,5,5)"/>
<rect x="474.07" y="111.30" width="11.60" height="3.40" fill="rgb(150,150,150)"/>
<rect x="474.07" y="115.80" width="11.60" height="3.80" fill="rgb(5,5,5)"/>
<rect x="487.40" y="111.75" width="11.60" height="2.50" fill="rgb(215,215,215)"/>
<rect x="487.40" y="116.60" width="11.60" height="3.20" fill="rgb(5,5,5)"/>
<rect x="500.73" y="116.60" width="11.60" height="3.20" fill="rgb(185,185,185)"/>
</g>
<rect x="351.5" y="108.5" width="159.0" height="15.099999999999994" rx="0.8" fill="none" stroke="#333" stroke-width="1.05"/>
<rect x="351.5" y="126.5" width="159.0" height="15.099999999999994" fill="#fff"/>
<rect x="354.10" y="128.10" width="11.60" height="11.90" fill="#f3f3f3"/>
<rect x="367.43" y="128.10" width="11.60" height="11.90" fill="#f3f3f3"/>
<rect x="380.76" y="128.10" width="11.60" height="11.90" fill="#f3f3f3"/>
<rect x="394.09" y="128.10" width="11.60" height="11.90" fill="#f3f3f3"/>
<rect x="407.42" y="128.10" width="11.60" height="11.90" fill="#f3f3f3"/>
<rect x="420.75" y="128.10" width="11.60" height="11.90" fill="#f3f3f3"/>
<rect x="434.08" y="128.10" width="11.60" height="11.90" fill="#f3f3f3"/>
<rect x="447.41" y="128.10" width="11.60" height="11.90" fill="#f3f3f3"/>
<rect x="460.74" y="128.10" width="11.60" height="11.90" fill="#f3f3f3"/>
<rect x="474.07" y="128.10" width="11.60" height="11.90" fill="#f3f3f3"/>
<rect x="487.40" y="128.10" width="11.60" height="11.90" fill="#f3f3f3"/>
<rect x="500.73" y="128.10" width="11.60" height="11.90" fill="#f3f3f3"/>
<g filter="url(#bl)">
<rect x="354.10" y="130.35" width="11.60" height="4.50" fill="rgb(60,60,60)"/>
<rect x="354.10" y="135.90" width="11.60" height="3.80" fill="rgb(25,25,25)"/>
<rect x="367.43" y="130.35" width="11.60" height="4.50" fill="rgb(35,35,35)"/>
<rect x="367.43" y="135.90" width="11.60" height="3.80" fill="rgb(18,18,18)"/>
<rect x="380.76" y="130.35" width="11.60" height="4.50" fill="rgb(30,30,30)"/>
<rect x="380.76" y="135.90" width="11.60" height="3.80" fill="rgb(18,18,18)"/>
<rect x="394.09" y="130.35" width="11.60" height="4.50" fill="rgb(30,30,30)"/>
<rect x="394.09" y="135.90" width="11.60" height="3.80" fill="rgb(18,18,18)"/>
<rect x="407.42" y="130.35" width="11.60" height="4.50" fill="rgb(35,35,35)"/>
<rect x="407.42" y="135.90" width="11.60" height="3.80" fill="rgb(18,18,18)"/>
<rect x="420.75" y="130.35" width="11.60" height="4.50" fill="rgb(35,35,35)"/>
<rect x="420.75" y="135.90" width="11.60" height="3.80" fill="rgb(15,15,15)"/>
<rect x="434.08" y="130.35" width="11.60" height="4.50" fill="rgb(35,35,35)"/>
<rect x="434.08" y="135.90" width="11.60" height="3.80" fill="rgb(18,18,18)"/>
<rect x="447.41" y="130.35" width="11.60" height="4.50" fill="rgb(75,75,75)"/>
<rect x="447.41" y="135.90" width="11.60" height="3.80" fill="rgb(35,35,35)"/>
<rect x="460.74" y="130.35" width="11.60" height="4.50" fill="rgb(90,90,90)"/>
<rect x="460.74" y="135.90" width="11.60" height="3.80" fill="rgb(60,60,60)"/>
<rect x="474.07" y="130.35" width="11.60" height="4.50" fill="rgb(35,35,35)"/>
<rect x="474.07" y="135.90" width="11.60" height="3.80" fill="rgb(18,18,18)"/>
<rect x="487.40" y="130.35" width="11.60" height="4.50" fill="rgb(75,75,75)"/>
<rect x="487.40" y="136.10" width="11.60" height="3.80" fill="rgb(12,12,12)"/>
<rect x="500.73" y="130.35" width="11.60" height="4.50" fill="rgb(35,35,35)"/>
<rect x="500.73" y="135.90" width="11.60" height="3.80" fill="rgb(18,18,18)"/>
</g>
<rect x="351.5" y="126.5" width="159.0" height="15.099999999999994" rx="0.8" fill="none" stroke="#333" stroke-width="1.05"/>
<rect x="351.5" y="144.4" width="159.0" height="15.199999999999989" fill="#fff"/>
<rect x="354.10" y="146.00" width="11.60" height="12.00" fill="#f3f3f3"/>
<rect x="367.43" y="146.00" width="11.60" height="12.00" fill="#f3f3f3"/>
<rect x="380.76" y="146.00" width="11.60" height="12.00" fill="#f3f3f3"/>
<rect x="394.09" y="146.00" width="11.60" height="12.00" fill="#f3f3f3"/>
<rect x="407.42" y="146.00" width="11.60" height="12.00" fill="#f3f3f3"/>
<rect x="420.75" y="146.00" width="11.60" height="12.00" fill="#f3f3f3"/>
<rect x="434.08" y="146.00" width="11.60" height="12.00" fill="#f3f3f3"/>
<rect x="447.41" y="146.00" width="11.60" height="12.00" fill="#f3f3f3"/>
<rect x="460.74" y="146.00" width="11.60" height="12.00" fill="#f3f3f3"/>
<rect x="474.07" y="146.00" width="11.60" height="12.00" fill="#f3f3f3"/>
<rect x="487.40" y="146.00" width="11.60" height="12.00" fill="#f3f3f3"/>
<rect x="500.73" y="146.00" width="11.60" height="12.00" fill="#f3f3f3"/>
<g filter="url(#bl)">
<rect x="354.10" y="149.20" width="11.60" height="5.00" fill="rgb(25,25,25)"/>
<rect x="367.43" y="149.20" width="11.60" height="5.00" fill="rgb(25,25,25)"/>
<rect x="380.76" y="148.50" width="11.60" height="5.20" fill="rgb(25,25,25)"/>
<rect x="394.09" y="148.30" width="11.60" height="5.00" fill="rgb(25,25,25)"/>
<rect x="407.42" y="149.60" width="11.60" height="4.20" fill="rgb(25,25,25)"/>
<rect x="420.75" y="151.10" width="11.60" height="4.80" fill="rgb(25,25,25)"/>
<rect x="434.08" y="149.00" width="11.60" height="4.60" fill="rgb(22,22,22)"/>
<rect x="447.41" y="149.00" width="11.60" height="4.60" fill="rgb(22,22,22)"/>
<rect x="460.74" y="149.00" width="11.60" height="4.60" fill="rgb(22,22,22)"/>
<rect x="474.07" y="149.10" width="11.60" height="4.80" fill="rgb(22,22,22)"/>
<rect x="487.40" y="148.20" width="11.60" height="4.80" fill="rgb(22,22,22)"/>
<rect x="500.73" y="149.20" width="11.60" height="5.00" fill="rgb(22,22,22)"/>
</g>
<rect x="351.5" y="144.4" width="159.0" height="15.199999999999989" rx="0.8" fill="none" stroke="#333" stroke-width="1.05"/>
<line x1="431.5" y1="25" x2="431.5" y2="160.5" stroke="#222" stroke-width="1" stroke-dasharray="3.7,2.6"/>
<text x="323.3" y="69.1" font-size="8.3" fill="#231f20" stroke="#231f20" stroke-width="0.2" textLength="19.818" lengthAdjust="spacingAndGlyphs">IGF1R</text>
<text x="302.8" y="82.9" font-size="8.3" fill="#231f20" stroke="#231f20" stroke-width="0.2" textLength="19.264" lengthAdjust="spacingAndGlyphs">P-AKT</text>
<text x="324.3" y="79.8" font-size="6.5" fill="#231f20" stroke="#231f20" stroke-width="0.2" textLength="17.471" lengthAdjust="spacingAndGlyphs">Ser473</text>
<text x="332.8" y="100.9" font-size="8.3" fill="#231f20" stroke="#231f20" stroke-width="0.2" textLength="12.436" lengthAdjust="spacingAndGlyphs">AKT</text>
<text x="293.2" y="118.5" font-size="8.3" fill="#231f20" stroke="#231f20" stroke-width="0.2" textLength="20.195" lengthAdjust="spacingAndGlyphs">P-ERK</text>
<text x="312.8" y="115.9" font-size="6.5" fill="#231f20" stroke="#231f20" stroke-width="0.2" textLength="28.893" lengthAdjust="spacingAndGlyphs">T202/Y204</text>
<text x="318.75" y="135.9" font-size="8.3" fill="#231f20" stroke="#231f20" stroke-width="0.2" textLength="25.624" lengthAdjust="spacingAndGlyphs">ERK 1/2</text>
<text x="316.2" y="153.1" font-size="8.3" fill="#231f20" stroke="#231f20" stroke-width="0.2" textLength="27.239" lengthAdjust="spacingAndGlyphs">ß-ACTIN</text>
<text x="6.70" y="199.5" font-size="11.5" fill="#111" stroke="#111" stroke-width="0.0">C</text>
<ellipse cx="188.3" cy="202.4" rx="28.8" ry="13.2" fill="none" stroke="#6fa6d8" stroke-width="1.2"/>
<text x="173.1" y="204.7" font-size="8.0" fill="#231f20" stroke="#231f20" stroke-width="0.2" textLength="31.079" lengthAdjust="spacingAndGlyphs">TCL1-192</text>
<line x1="155.6" y1="207.5" x2="130.79" y2="229.82" stroke="#111" stroke-width="1.1"/>
<polygon points="126.7,233.5 129.79,227.22 133.27,231.09" fill="#111"/>
<line x1="219.5" y1="207.4" x2="245.65" y2="230.19" stroke="#111" stroke-width="1.1"/>
<polygon points="249.8,233.8 243.19,231.49 246.61,227.57" fill="#111"/>
<text x="19.2" y="240.0" font-size="8.2" fill="#231f20" stroke="#231f20" stroke-width="0.2" textLength="34.155" lengthAdjust="spacingAndGlyphs">Treatment</text>
<rect x="19.5" y="241.3" width="34.5" height="0.7" fill="#231f20"/>
<text x="87.7" y="240.0" font-size="8.2" fill="#231f20" stroke="#231f20" stroke-width="0.2" textLength="24.539" lengthAdjust="spacingAndGlyphs">Vehicle</text>
<text x="133.5" y="240.0" font-size="8.2" fill="#231f20" stroke="#231f20" stroke-width="0.2" textLength="22.235" lengthAdjust="spacingAndGlyphs">iPI3K-δ</text>
<text x="215.3" y="240.0" font-size="8.2" fill="#231f20" stroke="#231f20" stroke-width="0.2" textLength="24.139" lengthAdjust="spacingAndGlyphs">Vehicle</text>
<text x="260.8" y="240.0" font-size="8.2" fill="#231f20" stroke="#231f20" stroke-width="0.2" textLength="23.664" lengthAdjust="spacingAndGlyphs">iPI3K-δ</text>
<rect x="82.5" y="245" width="81.1" height="1" fill="#231f20"/>
<rect x="210" y="245" width="81.5" height="1" fill="#231f20"/>
<text x="20.4" y="272.8" font-size="8.0" fill="#231f20" stroke="#231f20" stroke-width="0.2" textLength="32.284" lengthAdjust="spacingAndGlyphs">Transfer 1</text>
<text x="20.4" y="300.9" font-size="8.0" fill="#231f20" stroke="#231f20" stroke-width="0.2" textLength="32.106" lengthAdjust="spacingAndGlyphs">Transfer 2</text>
<text x="20.4" y="329.1" font-size="8.0" fill="#231f20" stroke="#231f20" stroke-width="0.2" textLength="32.106" lengthAdjust="spacingAndGlyphs">Transfer 3</text>
<text x="20.4" y="357.3" font-size="8.0" fill="#231f20" stroke="#231f20" stroke-width="0.2" textLength="32.106" lengthAdjust="spacingAndGlyphs">Transfer 4</text>
<rect x="98.8" y="263" width="22.60" height="15.00" fill="#4c6487"/>
<rect x="104" y="291" width="17.40" height="15.20" fill="#4c6487"/>
<rect x="121.4" y="291" width="43.20" height="15.20" fill="#78aa58"/>
<rect x="105.8" y="319" width="15.60" height="15.50" fill="#4c6487"/>
<rect x="121.4" y="319" width="32.00" height="15.50" fill="#78aa58"/>
<rect x="97" y="347.6" width="24.40" height="15.20" fill="#4c6487"/>
<rect x="121.4" y="347.6" width="47.40" height="15.20" fill="#78aa58"/>
<rect x="249.2" y="264.5" width="49.30" height="15.50" fill="#a13241"/>
<rect x="216.1" y="292.7" width="33.10" height="15.60" fill="#6d4b6e"/>
<rect x="249.2" y="292.7" width="63.00" height="15.60" fill="#a13241"/>
<rect x="219.2" y="320.1" width="30.00" height="15.40" fill="#6d4b6e"/>
<rect x="249.2" y="320.1" width="74.80" height="15.40" fill="#a13241"/>
<rect x="213.8" y="347.5" width="35.40" height="15.30" fill="#6d4b6e"/>
<rect x="249.2" y="347.5" width="122.50" height="15.30" fill="#a13241"/>
<line x1="97.7" y1="270.5" x2="100.4" y2="270.5" stroke="#231f20" stroke-width="1.0"/>
<line x1="97.7" y1="266.4" x2="97.7" y2="274.6" stroke="#231f20" stroke-width="1.0"/>
<line x1="100.4" y1="266.4" x2="100.4" y2="274.6" stroke="#231f20" stroke-width="1.0"/>
<line x1="103.3" y1="298.5" x2="105.2" y2="298.5" stroke="#231f20" stroke-width="1.0"/>
<line x1="103.3" y1="294.4" x2="103.3" y2="302.6" stroke="#231f20" stroke-width="1.0"/>
<line x1="105.2" y1="294.4" x2="105.2" y2="302.6" stroke="#231f20" stroke-width="1.0"/>
<line x1="104.6" y1="326.5" x2="107.0" y2="326.5" stroke="#231f20" stroke-width="1.0"/>
<line x1="104.6" y1="322.4" x2="104.6" y2="330.6" stroke="#231f20" stroke-width="1.0"/>
<line x1="107.0" y1="322.4" x2="107.0" y2="330.6" stroke="#231f20" stroke-width="1.0"/>
<line x1="96.2" y1="354.7" x2="98.8" y2="354.7" stroke="#231f20" stroke-width="1.0"/>
<line x1="96.2" y1="350.59999999999997" x2="96.2" y2="358.8" stroke="#231f20" stroke-width="1.0"/>
<line x1="98.8" y1="350.59999999999997" x2="98.8" y2="358.8" stroke="#231f20" stroke-width="1.0"/>
<line x1="147.4" y1="298.5" x2="180.7" y2="298.5" stroke="#231f20" stroke-width="1.0"/>
<line x1="147.4" y1="294.4" x2="147.4" y2="302.6" stroke="#231f20" stroke-width="1.0"/>
<line x1="180.7" y1="294.4" x2="180.7" y2="302.6" stroke="#231f20" stroke-width="1.0"/>
<line x1="146.5" y1="326.5" x2="158.5" y2="326.5" stroke="#231f20" stroke-width="1.0"/>
<line x1="146.5" y1="322.4" x2="146.5" y2="330.6" stroke="#231f20" stroke-width="1.0"/>
<line x1="158.5" y1="322.4" x2="158.5" y2="330.6" stroke="#231f20" stroke-width="1.0"/>
<line x1="162.8" y1="354.7" x2="174.6" y2="354.7" stroke="#231f20" stroke-width="1.0"/>
<line x1="162.8" y1="350.59999999999997" x2="162.8" y2="358.8" stroke="#231f20" stroke-width="1.0"/>
<line x1="174.6" y1="350.59999999999997" x2="174.6" y2="358.8" stroke="#231f20" stroke-width="1.0"/>
<line x1="121.4" y1="270.5" x2="124.60000000000001" y2="270.5" stroke="#231f20" stroke-width="0.9"/>
<line x1="121.4" y1="298.5" x2="124.60000000000001" y2="298.5" stroke="#231f20" stroke-width="0.9"/>
<line x1="121.4" y1="326.5" x2="124.60000000000001" y2="326.5" stroke="#231f20" stroke-width="0.9"/>
<line x1="121.4" y1="354.7" x2="124.60000000000001" y2="354.7" stroke="#231f20" stroke-width="0.9"/>
<line x1="291.4" y1="272.4" x2="305.0" y2="272.4" stroke="#231f20" stroke-width="1.0"/>
<line x1="291.4" y1="268.29999999999995" x2="291.4" y2="276.5" stroke="#231f20" stroke-width="1.0"/>
<line x1="305.0" y1="268.29999999999995" x2="305.0" y2="276.5" stroke="#231f20" stroke-width="1.0"/>
<line x1="302.2" y1="300.4" x2="321.0" y2="300.4" stroke="#231f20" stroke-width="1.0"/>
<line x1="302.2" y1="296.29999999999995" x2="302.2" y2="304.5" stroke="#231f20" stroke-width="1.0"/>
<line x1="321.0" y1="296.29999999999995" x2="321.0" y2="304.5" stroke="#231f20" stroke-width="1.0"/>
<line x1="311.5" y1="327.5" x2="335.5" y2="327.5" stroke="#231f20" stroke-width="1.0"/>
<line x1="311.5" y1="323.4" x2="311.5" y2="331.6" stroke="#231f20" stroke-width="1.0"/>
<line x1="335.5" y1="323.4" x2="335.5" y2="331.6" stroke="#231f20" stroke-width="1.0"/>
<line x1="346.8" y1="355.0" x2="395.4" y2="355.0" stroke="#231f20" stroke-width="1.0"/>
<line x1="346.8" y1="350.9" x2="346.8" y2="359.1" stroke="#231f20" stroke-width="1.0"/>
<line x1="395.4" y1="350.9" x2="395.4" y2="359.1" stroke="#231f20" stroke-width="1.0"/>
<line x1="214.6" y1="300.4" x2="216.5" y2="300.4" stroke="#231f20" stroke-width="1.0"/>
<line x1="214.6" y1="296.29999999999995" x2="214.6" y2="304.5" stroke="#231f20" stroke-width="1.0"/>
<line x1="216.5" y1="296.29999999999995" x2="216.5" y2="304.5" stroke="#231f20" stroke-width="1.0"/>
<line x1="207.8" y1="327.5" x2="219.2" y2="327.5" stroke="#231f20" stroke-width="1.0"/>
<line x1="207.8" y1="323.4" x2="207.8" y2="331.6" stroke="#231f20" stroke-width="1.0"/>
<line x1="219.2" y1="323.4" x2="219.2" y2="331.6" stroke="#231f20" stroke-width="1.0"/>
<line x1="208.6" y1="355.0" x2="213.8" y2="355.0" stroke="#231f20" stroke-width="1.0"/>
<line x1="208.6" y1="350.9" x2="208.6" y2="359.1" stroke="#231f20" stroke-width="1.0"/>
<line x1="213.8" y1="350.9" x2="213.8" y2="359.1" stroke="#231f20" stroke-width="1.0"/>
<line x1="246.0" y1="272.3" x2="249.2" y2="272.3" stroke="#231f20" stroke-width="0.9"/>
<line x1="249.2" y1="300.4" x2="252.0" y2="300.4" stroke="#231f20" stroke-width="0.9"/>
<line x1="249.2" y1="327.5" x2="252.0" y2="327.5" stroke="#231f20" stroke-width="0.9"/>
<line x1="249.2" y1="355.0" x2="252.0" y2="355.0" stroke="#231f20" stroke-width="0.9"/>
<line x1="327.9" y1="293.7" x2="327.9" y2="305.7" stroke="#333" stroke-width="1.05"/>
<circle cx="334.1" cy="297.7" r="0.9" fill="#333"/><circle cx="334.1" cy="301.7" r="0.9" fill="#333"/>
<line x1="342.0" y1="321.2" x2="342.0" y2="333.2" stroke="#333" stroke-width="1.05"/>
<circle cx="347.9" cy="325.2" r="0.9" fill="#333"/><circle cx="347.9" cy="329.2" r="0.9" fill="#333"/>
<line x1="400.3" y1="348.6" x2="400.3" y2="360.6" stroke="#333" stroke-width="1.05"/>
<circle cx="406.0" cy="352.6" r="0.9" fill="#333"/><circle cx="406.0" cy="356.6" r="0.9" fill="#333"/>
<rect x="121" y="245" width="1" height="123.5" fill="#111"/>
<rect x="249" y="245" width="1" height="123.5" fill="#111"/>
<rect x="68" y="365" width="120" height="1.1" fill="#231f20"/>
<rect x="194" y="365" width="246.5" height="1.1" fill="#231f20"/>
<rect x="74" y="365" width="1" height="3.2" fill="#231f20"/>
<rect x="168" y="365" width="1" height="3.2" fill="#231f20"/>
<rect x="202" y="365" width="1" height="3.2" fill="#231f20"/>
<rect x="296" y="365" width="1" height="3.2" fill="#231f20"/>
<rect x="343" y="365" width="1" height="3.2" fill="#231f20"/>
<rect x="390" y="365" width="1" height="3.2" fill="#231f20"/>
<rect x="437" y="365" width="1" height="3.2" fill="#231f20"/>
<text x="74.1" y="378.6" font-size="7.8" fill="#231f20" text-anchor="middle" stroke="#231f20" stroke-width="0.2">2</text>
<text x="121.4" y="378.6" font-size="7.8" fill="#231f20" text-anchor="middle" stroke="#231f20" stroke-width="0.2">0</text>
<text x="168.4" y="378.6" font-size="7.8" fill="#231f20" text-anchor="middle" stroke="#231f20" stroke-width="0.2">2</text>
<text x="202.3" y="378.6" font-size="7.8" fill="#231f20" text-anchor="middle" stroke="#231f20" stroke-width="0.2">2</text>
<text x="249.2" y="378.6" font-size="7.8" fill="#231f20" text-anchor="middle" stroke="#231f20" stroke-width="0.2">0</text>
<text x="296.5" y="378.6" font-size="7.8" fill="#231f20" text-anchor="middle" stroke="#231f20" stroke-width="0.2">2</text>
<text x="343.1" y="378.6" font-size="7.8" fill="#231f20" text-anchor="middle" stroke="#231f20" stroke-width="0.2">4</text>
<text x="390.8" y="378.6" font-size="7.8" fill="#231f20" text-anchor="middle" stroke="#231f20" stroke-width="0.2">6</text>
<text x="437.5" y="378.6" font-size="7.8" fill="#231f20" text-anchor="middle" stroke="#231f20" stroke-width="0.2">8</text>
<text x="163.8" y="390.5" font-size="7.7" fill="#231f20" stroke="#231f20" stroke-width="0.2" textLength="103.573" lengthAdjust="spacingAndGlyphs">Fold change in Igf1r expression</text>
<text x="140.3" y="400.2" font-size="7.7" fill="#231f20" stroke="#231f20" stroke-width="0.2" textLength="52.353" lengthAdjust="spacingAndGlyphs">(normalized to 1</text>
<text x="194.10" y="396.8" font-size="5.0" fill="#231f20" stroke="#231f20" stroke-width="0.2">st</text>
<text x="200.2" y="400.2" font-size="7.7" fill="#231f20" stroke="#231f20" stroke-width="0.2" textLength="91.615" lengthAdjust="spacingAndGlyphs">transfer Vehicle treatment)</text>
<g transform="translate(0,0)">
<path d="M 87.4 274.5 C 76 274.8, 67.5 277.5, 66.2 281.8 C 65.2 285.5, 71 287.6, 81.8 288.1" fill="none" stroke="#223c5a" stroke-width="2.3" stroke-linecap="butt"/>
<path d="M 87.4 274.5 C 76 274.8, 67.5 277.5, 66.2 281.8 C 65.2 285.5, 71 287.6, 81.8 288.1" fill="none" stroke="#6aa4d8" stroke-width="1.0" stroke-linecap="butt"/>
<polygon points="81.0,285.1 88.3,288.9 81.3,292.8" fill="#6ea8dc" stroke="#223c5a" stroke-width="0.7" stroke-linejoin="miter"/>
</g>
<g transform="translate(-0.3,32.1)">
<path d="M 87.4 274.5 C 76 274.8, 67.5 277.5, 66.2 281.8 C 65.2 285.5, 71 287.6, 81.8 288.1" fill="none" stroke="#223c5a" stroke-width="2.3" stroke-linecap="butt"/>
<path d="M 87.4 274.5 C 76 274.8, 67.5 277.5, 66.2 281.8 C 65.2 285.5, 71 287.6, 81.8 288.1" fill="none" stroke="#6aa4d8" stroke-width="1.0" stroke-linecap="butt"/>
<polygon points="81.0,285.1 88.3,288.9 81.3,292.8" fill="#6ea8dc" stroke="#223c5a" stroke-width="0.7" stroke-linejoin="miter"/>
</g>
<g transform="translate(-0.3,62.0)">
<path d="M 87.4 274.5 C 76 274.8, 67.5 277.5, 66.2 281.8 C 65.2 285.5, 71 287.6, 81.8 288.1" fill="none" stroke="#223c5a" stroke-width="2.3" stroke-linecap="butt"/>
<path d="M 87.4 274.5 C 76 274.8, 67.5 277.5, 66.2 281.8 C 65.2 285.5, 71 287.6, 81.8 288.1" fill="none" stroke="#6aa4d8" stroke-width="1.0" stroke-linecap="butt"/>
<polygon points="81.0,285.1 88.3,288.9 81.3,292.8" fill="#6ea8dc" stroke="#223c5a" stroke-width="0.7" stroke-linejoin="miter"/>
</g>
<g transform="translate(0,0)">
<path d="M 365.8 270.5 C 377 270.4, 388 273, 390.4 279.5 C 392.2 285, 386 290, 378.6 292.3" fill="none" stroke="#223c5a" stroke-width="2.3" stroke-linecap="butt"/>
<path d="M 365.8 270.5 C 377 270.4, 388 273, 390.4 279.5 C 392.2 285, 386 290, 378.6 292.3" fill="none" stroke="#6aa4d8" stroke-width="1.0" stroke-linecap="butt"/>
<polygon points="377.2,288.5 368.6,294.6 378.8,297.7" fill="#6ea8dc" stroke="#223c5a" stroke-width="0.7" stroke-linejoin="miter"/>
</g>
<g transform="translate(30.6,29.8)">
<path d="M 365.8 270.5 C 377 270.4, 388 273, 390.4 279.5 C 392.2 285, 386 290, 378.6 292.3" fill="none" stroke="#223c5a" stroke-width="2.3" stroke-linecap="butt"/>
<path d="M 365.8 270.5 C 377 270.4, 388 273, 390.4 279.5 C 392.2 285, 386 290, 378.6 292.3" fill="none" stroke="#6aa4d8" stroke-width="1.0" stroke-linecap="butt"/>
<polygon points="377.2,288.5 368.6,294.6 378.8,297.7" fill="#6ea8dc" stroke="#223c5a" stroke-width="0.7" stroke-linejoin="miter"/>
</g>
<g transform="translate(60.8,60.0)">
<path d="M 365.8 270.5 C 377 270.4, 388 273, 390.4 279.5 C 392.2 285, 386 290, 378.6 292.3" fill="none" stroke="#223c5a" stroke-width="2.3" stroke-linecap="butt"/>
<path d="M 365.8 270.5 C 377 270.4, 388 273, 390.4 279.5 C 392.2 285, 386 290, 378.6 292.3" fill="none" stroke="#6aa4d8" stroke-width="1.0" stroke-linecap="butt"/>
<polygon points="377.2,288.5 368.6,294.6 378.8,297.7" fill="#6ea8dc" stroke="#223c5a" stroke-width="0.7" stroke-linejoin="miter"/>
</g>
<text x="7.20" y="427.9" font-size="11.5" fill="#111" stroke="#111" stroke-width="0.0">D</text>
<rect x="53.3" y="433.0" width="187.20" height="21.6" fill="#fff" stroke="#333" stroke-width="1.1"/>
<text x="66.9" y="447.75" font-size="8.5" fill="#56679a" stroke="#56679a" stroke-width="0.2" textLength="54.265" lengthAdjust="spacingAndGlyphs">iPI3K-δ sensitive</text>
<text x="166.9" y="447.75" font-size="8.5" fill="#a53246" stroke="#a53246" stroke-width="0.2" textLength="52.249" lengthAdjust="spacingAndGlyphs">iPI3K-δ resistant</text>
<rect x="53.3" y="454.6" width="187.20" height="15.00" fill="#fff"/>
<rect x="54.40" y="456.20" width="14.60" height="11.80" fill="#f3f3f3"/>
<rect x="71.06" y="456.20" width="14.60" height="11.80" fill="#f3f3f3"/>
<rect x="87.72" y="456.20" width="14.60" height="11.80" fill="#f3f3f3"/>
<rect x="104.38" y="456.20" width="14.60" height="11.80" fill="#f3f3f3"/>
<rect x="121.04" y="456.20" width="14.60" height="11.80" fill="#f3f3f3"/>
<g filter="url(#bl)">
<rect x="54.40" y="464.50" width="14.60" height="3.00" fill="rgb(238,238,238)"/>
<rect x="71.06" y="459.30" width="14.60" height="6.00" fill="rgb(205,205,205)"/>
<rect x="87.72" y="458.70" width="14.60" height="7.00" fill="rgb(160,160,160)"/>
<rect x="104.38" y="457.50" width="14.60" height="2.00" fill="rgb(185,185,185)"/>
<rect x="104.38" y="461.60" width="14.60" height="4.00" fill="rgb(85,85,85)"/>
<rect x="121.04" y="463.00" width="14.60" height="5.00" fill="rgb(232,232,232)"/>
</g>
<rect x="139.10" y="456.20" width="14.40" height="11.80" fill="#f3f3f3"/>
<rect x="155.74" y="456.20" width="14.40" height="11.80" fill="#f3f3f3"/>
<rect x="172.38" y="456.20" width="14.40" height="11.80" fill="#f3f3f3"/>
<rect x="189.02" y="456.20" width="14.40" height="11.80" fill="#f3f3f3"/>
<rect x="205.66" y="456.20" width="14.40" height="11.80" fill="#f3f3f3"/>
<rect x="222.30" y="456.20" width="14.40" height="11.80" fill="#f3f3f3"/>
<g filter="url(#bl)">
<rect x="139.10" y="457.00" width="14.40" height="5.00" fill="rgb(165,165,165)"/>
<rect x="139.10" y="463.00" width="14.40" height="3.00" fill="rgb(215,215,215)"/>
<rect x="155.74" y="459.00" width="14.40" height="6.00" fill="rgb(240,240,240)"/>
<rect x="172.38" y="459.35" width="14.40" height="4.50" fill="rgb(165,165,165)"/>
<rect x="189.02" y="459.00" width="14.40" height="6.00" fill="rgb(230,230,230)"/>
<rect x="205.66" y="460.10" width="14.40" height="4.00" fill="rgb(85,85,85)"/>
<rect x="222.30" y="459.25" width="14.40" height="5.50" fill="rgb(200,200,200)"/>
</g>
<rect x="53.3" y="454.6" width="187.2" height="15.0" rx="0.8" fill="none" stroke="#333" stroke-width="1.05"/>
<rect x="53.3" y="472.5" width="187.20" height="15.00" fill="#fff"/>
<rect x="54.40" y="474.10" width="14.60" height="11.80" fill="#f3f3f3"/>
<rect x="71.06" y="474.10" width="14.60" height="11.80" fill="#f3f3f3"/>
<rect x="87.72" y="474.10" width="14.60" height="11.80" fill="#f3f3f3"/>
<rect x="104.38" y="474.10" width="14.60" height="11.80" fill="#f3f3f3"/>
<rect x="121.04" y="474.10" width="14.60" height="11.80" fill="#f3f3f3"/>
<g filter="url(#bl)">
<rect x="87.72" y="476.50" width="14.60" height="5.00" fill="rgb(240,240,240)"/>
<rect x="104.38" y="477.15" width="14.60" height="2.50" fill="rgb(225,225,225)"/>
</g>
<rect x="139.10" y="474.10" width="14.40" height="11.80" fill="#f3f3f3"/>
<rect x="155.74" y="474.10" width="14.40" height="11.80" fill="#f3f3f3"/>
<rect x="172.38" y="474.10" width="14.40" height="11.80" fill="#f3f3f3"/>
<rect x="189.02" y="474.10" width="14.40" height="11.80" fill="#f3f3f3"/>
<rect x="205.66" y="474.10" width="14.40" height="11.80" fill="#f3f3f3"/>
<rect x="222.30" y="474.10" width="14.40" height="11.80" fill="#f3f3f3"/>
<g filter="url(#bl)">
<rect x="139.10" y="474.90" width="14.40" height="5.00" fill="rgb(228,228,228)"/>
<rect x="172.38" y="478.85" width="14.40" height="1.30" fill="rgb(215,215,215)"/>
<rect x="172.38" y="483.00" width="14.40" height="1.20" fill="rgb(222,222,222)"/>
<rect x="189.02" y="477.50" width="14.40" height="4.00" fill="rgb(236,236,236)"/>
<rect x="205.66" y="478.30" width="14.40" height="1.40" fill="rgb(200,200,200)"/>
<rect x="205.66" y="482.95" width="14.40" height="1.30" fill="rgb(212,212,212)"/>
<rect x="222.30" y="477.00" width="14.40" height="4.00" fill="rgb(240,240,240)"/>
</g>
<rect x="53.3" y="472.5" width="187.2" height="15.0" rx="0.8" fill="none" stroke="#333" stroke-width="1.05"/>
<rect x="53.3" y="489.5" width="187.20" height="15.00" fill="#fff"/>
<rect x="56.10" y="491.10" width="14.60" height="11.80" fill="#f3f3f3"/>
<rect x="72.76" y="491.10" width="14.60" height="11.80" fill="#f3f3f3"/>
<rect x="89.42" y="491.10" width="14.60" height="11.80" fill="#f3f3f3"/>
<rect x="106.08" y="491.10" width="14.60" height="11.80" fill="#f3f3f3"/>
<rect x="122.74" y="491.10" width="14.60" height="11.80" fill="#f3f3f3"/>
<g filter="url(#bl)">
<rect x="56.10" y="495.75" width="14.60" height="6.50" fill="rgb(58,58,58)"/>
<rect x="72.76" y="495.70" width="14.60" height="3.00" fill="rgb(135,135,135)"/>
<rect x="72.76" y="497.00" width="14.60" height="5.00" fill="rgb(82,82,82)"/>
<rect x="89.42" y="493.10" width="14.60" height="7.40" fill="rgb(58,58,58)"/>
<rect x="106.08" y="493.40" width="14.60" height="7.60" fill="rgb(58,58,58)"/>
<rect x="122.74" y="494.00" width="14.60" height="7.00" fill="rgb(58,58,58)"/>
</g>
<rect x="139.40" y="491.10" width="14.40" height="11.80" fill="#f3f3f3"/>
<rect x="156.04" y="491.10" width="14.40" height="11.80" fill="#f3f3f3"/>
<rect x="172.68" y="491.10" width="14.40" height="11.80" fill="#f3f3f3"/>
<rect x="189.32" y="491.10" width="14.40" height="11.80" fill="#f3f3f3"/>
<rect x="205.96" y="491.10" width="14.40" height="11.80" fill="#f3f3f3"/>
<rect x="222.60" y="491.10" width="14.40" height="11.80" fill="#f3f3f3"/>
<g filter="url(#bl)">
<rect x="139.40" y="492.80" width="14.40" height="7.80" fill="rgb(62,62,62)"/>
<rect x="156.04" y="492.80" width="14.40" height="7.80" fill="rgb(58,58,58)"/>
<rect x="172.68" y="492.80" width="14.40" height="7.80" fill="rgb(58,58,58)"/>
<rect x="189.32" y="492.80" width="14.40" height="7.80" fill="rgb(62,62,62)"/>
<rect x="205.96" y="492.80" width="14.40" height="7.80" fill="rgb(58,58,58)"/>
<rect x="222.60" y="492.80" width="14.40" height="7.80" fill="rgb(66,66,66)"/>
</g>
<rect x="53.3" y="489.5" width="187.2" height="15.0" rx="0.8" fill="none" stroke="#333" stroke-width="1.05"/>
<rect x="53.3" y="507.3" width="187.20" height="16.40" fill="#fff"/>
<rect x="55.30" y="508.90" width="14.60" height="13.20" fill="#f3f3f3"/>
<rect x="71.96" y="508.90" width="14.60" height="13.20" fill="#f3f3f3"/>
<rect x="88.62" y="508.90" width="14.60" height="13.20" fill="#f3f3f3"/>
<rect x="105.28" y="508.90" width="14.60" height="13.20" fill="#f3f3f3"/>
<rect x="121.94" y="508.90" width="14.60" height="13.20" fill="#f3f3f3"/>
<g filter="url(#bl)">
<rect x="55.30" y="510.50" width="14.60" height="4.00" fill="rgb(170,170,170)"/>
<rect x="55.30" y="514.50" width="14.60" height="4.00" fill="rgb(205,205,205)"/>
<rect x="71.96" y="510.20" width="14.60" height="2.00" fill="rgb(170,170,170)"/>
<rect x="71.96" y="512.20" width="14.60" height="5.00" fill="rgb(95,95,95)"/>
<rect x="71.96" y="517.00" width="14.60" height="3.00" fill="rgb(185,185,185)"/>
<rect x="88.62" y="510.30" width="14.60" height="9.40" fill="rgb(65,65,65)"/>
<rect x="105.28" y="510.30" width="14.60" height="9.40" fill="rgb(65,65,65)"/>
<rect x="121.94" y="510.70" width="14.60" height="9.00" fill="rgb(80,80,80)"/>
</g>
<rect x="139.40" y="508.90" width="14.40" height="13.20" fill="#f3f3f3"/>
<rect x="156.04" y="508.90" width="14.40" height="13.20" fill="#f3f3f3"/>
<rect x="172.68" y="508.90" width="14.40" height="13.20" fill="#f3f3f3"/>
<rect x="189.32" y="508.90" width="14.40" height="13.20" fill="#f3f3f3"/>
<rect x="205.96" y="508.90" width="14.40" height="13.20" fill="#f3f3f3"/>
<rect x="222.60" y="508.90" width="14.40" height="13.20" fill="#f3f3f3"/>
<g filter="url(#bl)">
<rect x="139.40" y="510.30" width="14.40" height="8.40" fill="rgb(65,65,65)"/>
<rect x="156.04" y="510.50" width="14.40" height="3.00" fill="rgb(195,195,195)"/>
<rect x="156.04" y="513.50" width="14.40" height="2.00" fill="rgb(130,130,130)"/>
<rect x="156.04" y="515.50" width="14.40" height="3.00" fill="rgb(185,185,185)"/>
<rect x="172.68" y="511.60" width="14.40" height="6.00" fill="rgb(160,160,160)"/>
<rect x="189.32" y="513.25" width="14.40" height="2.50" fill="rgb(115,115,115)"/>
<rect x="189.32" y="511.50" width="14.40" height="6.00" fill="rgb(180,180,180)"/>
<rect x="205.96" y="513.50" width="14.40" height="2.00" fill="rgb(140,140,140)"/>
<rect x="205.96" y="511.50" width="14.40" height="6.00" fill="rgb(198,198,198)"/>
<rect x="222.60" y="511.60" width="14.40" height="6.00" fill="rgb(195,195,195)"/>
</g>
<rect x="53.3" y="507.3" width="187.2" height="16.400000000000034" rx="0.8" fill="none" stroke="#333" stroke-width="1.05"/>
<rect x="53.3" y="526.5" width="187.20" height="17.00" fill="#fff"/>
<rect x="56.10" y="528.10" width="14.60" height="13.80" fill="#f3f3f3"/>
<rect x="72.76" y="528.10" width="14.60" height="13.80" fill="#f3f3f3"/>
<rect x="89.42" y="528.10" width="14.60" height="13.80" fill="#f3f3f3"/>
<rect x="106.08" y="528.10" width="14.60" height="13.80" fill="#f3f3f3"/>
<rect x="122.74" y="528.10" width="14.60" height="13.80" fill="#f3f3f3"/>
<g filter="url(#bl)">
<rect x="56.10" y="530.30" width="14.60" height="6.80" fill="rgb(58,58,58)"/>
<rect x="72.76" y="530.30" width="14.60" height="6.80" fill="rgb(62,62,62)"/>
<rect x="89.42" y="530.30" width="14.60" height="6.80" fill="rgb(58,58,58)"/>
<rect x="106.08" y="530.30" width="14.60" height="6.80" fill="rgb(62,62,62)"/>
<rect x="122.74" y="530.30" width="14.60" height="6.80" fill="rgb(62,62,62)"/>
</g>
<rect x="139.40" y="528.10" width="14.40" height="13.80" fill="#f3f3f3"/>
<rect x="156.04" y="528.10" width="14.40" height="13.80" fill="#f3f3f3"/>
<rect x="172.68" y="528.10" width="14.40" height="13.80" fill="#f3f3f3"/>
<rect x="189.32" y="528.10" width="14.40" height="13.80" fill="#f3f3f3"/>
<rect x="205.96" y="528.10" width="14.40" height="13.80" fill="#f3f3f3"/>
<rect x="222.60" y="528.10" width="14.40" height="13.80" fill="#f3f3f3"/>
<g filter="url(#bl)">
<rect x="139.40" y="530.00" width="14.40" height="7.80" fill="rgb(62,62,62)"/>
<rect x="156.04" y="530.10" width="14.40" height="7.60" fill="rgb(58,58,58)"/>
<rect x="172.68" y="530.10" width="14.40" height="7.60" fill="rgb(58,58,58)"/>
<rect x="189.32" y="530.10" width="14.40" height="7.60" fill="rgb(58,58,58)"/>
<rect x="205.96" y="530.10" width="14.40" height="7.60" fill="rgb(58,58,58)"/>
<rect x="222.60" y="530.10" width="14.40" height="7.60" fill="rgb(62,62,62)"/>
</g>
<rect x="53.3" y="526.5" width="187.2" height="17.0" rx="0.8" fill="none" stroke="#333" stroke-width="1.05"/>
<line x1="137.9" y1="433.0" x2="137.9" y2="544" stroke="#222" stroke-width="1" stroke-dasharray="3.7,2.6"/>
<text x="28.0" y="465.0" font-size="8.2" fill="#231f20" stroke="#231f20" stroke-width="0.2" textLength="21.885" lengthAdjust="spacingAndGlyphs">PI3K-α</text>
<text x="28.7" y="482.9" font-size="8.2" fill="#231f20" stroke="#231f20" stroke-width="0.2" textLength="21.061" lengthAdjust="spacingAndGlyphs">PI3K-β</text>
<text x="29.1" y="501.1" font-size="8.2" fill="#231f20" stroke="#231f20" stroke-width="0.2" textLength="21.476" lengthAdjust="spacingAndGlyphs">PI3K-δ</text>
<text x="29.1" y="518.5" font-size="8.2" fill="#231f20" stroke="#231f20" stroke-width="0.2" textLength="19.632" lengthAdjust="spacingAndGlyphs">PI3K-γ</text>
<text x="22.8" y="537.0" font-size="8.2" fill="#231f20" stroke="#231f20" stroke-width="0.2" textLength="26.219" lengthAdjust="spacingAndGlyphs">ß-ACTIN</text>
<rect x="0" y="0" width="520" height="1" fill="#111"/>
<rect x="0" y="0" width="1" height="552" fill="#111"/>
<rect x="518" y="0" width="2" height="552" fill="#444"/>
<rect x="0" y="550" width="520" height="2" fill="#444"/>
</svg>
</body></html>
